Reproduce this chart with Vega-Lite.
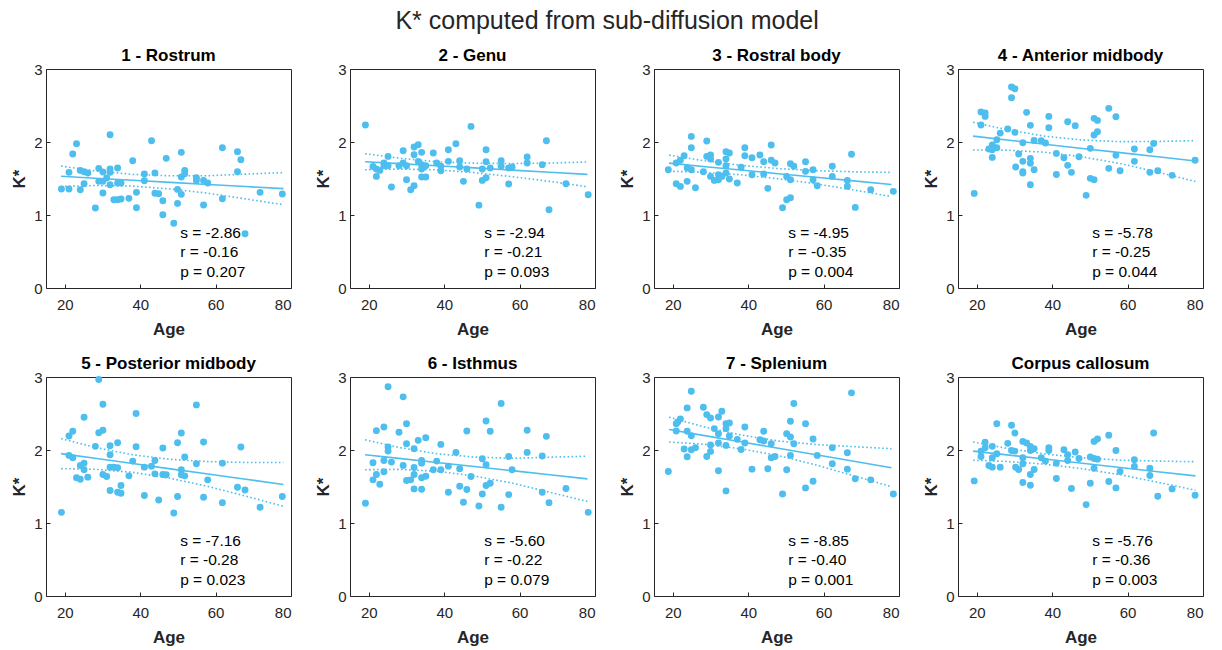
{
"$schema": "https://vega.github.io/schema/vega-lite/v6.json",
"background": "white",
"padding": {"left": 10, "top": 8, "right": 5, "bottom": 5},
"title": {"text": "K* computed from sub-diffusion model", "fontSize": 25, "fontWeight": "normal", "font": "Liberation Sans", "color": "#262626", "anchor": "middle", "offset": 13},
"data": {"values": [
{"panel":"1 - Rostrum","kind":"pt","age":19.1,"K":1.355},{"panel":"1 - Rostrum","kind":"pt","age":21.1,"K":1.584},{"panel":"1 - Rostrum","kind":"pt","age":21.1,"K":1.355},{"panel":"1 - Rostrum","kind":"pt","age":22.1,"K":1.835},{"panel":"1 - Rostrum","kind":"pt","age":23.1,"K":1.977},{"panel":"1 - Rostrum","kind":"pt","age":24.1,"K":1.611},{"panel":"1 - Rostrum","kind":"pt","age":24.1,"K":1.347},{"panel":"1 - Rostrum","kind":"pt","age":25.1,"K":1.429},{"panel":"1 - Rostrum","kind":"pt","age":25.1,"K":1.593},{"panel":"1 - Rostrum","kind":"pt","age":26.1,"K":1.575},{"panel":"1 - Rostrum","kind":"pt","age":28.1,"K":1.095},{"panel":"1 - Rostrum","kind":"pt","age":29.0,"K":1.639},{"panel":"1 - Rostrum","kind":"pt","age":29.0,"K":1.461},{"panel":"1 - Rostrum","kind":"pt","age":30.1,"K":1.589},{"panel":"1 - Rostrum","kind":"pt","age":30.1,"K":1.301},{"panel":"1 - Rostrum","kind":"pt","age":30.1,"K":1.461},{"panel":"1 - Rostrum","kind":"pt","age":31.1,"K":1.507},{"panel":"1 - Rostrum","kind":"pt","age":32.0,"K":2.10},{"panel":"1 - Rostrum","kind":"pt","age":32.0,"K":1.630},{"panel":"1 - Rostrum","kind":"pt","age":32.0,"K":1.584},{"panel":"1 - Rostrum","kind":"pt","age":32.0,"K":1.415},{"panel":"1 - Rostrum","kind":"pt","age":33.0,"K":1.210},{"panel":"1 - Rostrum","kind":"pt","age":34.0,"K":1.643},{"panel":"1 - Rostrum","kind":"pt","age":34.0,"K":1.438},{"panel":"1 - Rostrum","kind":"pt","age":34.0,"K":1.210},{"panel":"1 - Rostrum","kind":"pt","age":34.9,"K":1.438},{"panel":"1 - Rostrum","kind":"pt","age":34.9,"K":1.219},{"panel":"1 - Rostrum","kind":"pt","age":37.0,"K":1.228},{"panel":"1 - Rostrum","kind":"pt","age":38.0,"K":1.744},{"panel":"1 - Rostrum","kind":"pt","age":39.0,"K":1.31},{"panel":"1 - Rostrum","kind":"pt","age":39.0,"K":1.10},{"panel":"1 - Rostrum","kind":"pt","age":41.1,"K":1.561},{"panel":"1 - Rostrum","kind":"pt","age":41.1,"K":1.47},{"panel":"1 - Rostrum","kind":"pt","age":43.0,"K":2.018},{"panel":"1 - Rostrum","kind":"pt","age":43.9,"K":1.575},{"panel":"1 - Rostrum","kind":"pt","age":43.9,"K":1.297},{"panel":"1 - Rostrum","kind":"pt","age":44.9,"K":1.292},{"panel":"1 - Rostrum","kind":"pt","age":46.0,"K":1.196},{"panel":"1 - Rostrum","kind":"pt","age":46.0,"K":1.004},{"panel":"1 - Rostrum","kind":"pt","age":46.9,"K":1.776},{"panel":"1 - Rostrum","kind":"pt","age":48.9,"K":0.886},{"panel":"1 - Rostrum","kind":"pt","age":49.9,"K":1.351},{"panel":"1 - Rostrum","kind":"pt","age":49.9,"K":1.159},{"panel":"1 - Rostrum","kind":"pt","age":50.9,"K":1.858},{"panel":"1 - Rostrum","kind":"pt","age":50.9,"K":1.52},{"panel":"1 - Rostrum","kind":"pt","age":50.9,"K":1.283},{"panel":"1 - Rostrum","kind":"pt","age":51.8,"K":1.611},{"panel":"1 - Rostrum","kind":"pt","age":51.8,"K":1.566},{"panel":"1 - Rostrum","kind":"pt","age":54.9,"K":1.511},{"panel":"1 - Rostrum","kind":"pt","age":54.9,"K":1.474},{"panel":"1 - Rostrum","kind":"pt","age":56.8,"K":1.474},{"panel":"1 - Rostrum","kind":"pt","age":56.8,"K":1.137},{"panel":"1 - Rostrum","kind":"pt","age":57.9,"K":1.438},{"panel":"1 - Rostrum","kind":"pt","age":61.8,"K":1.922},{"panel":"1 - Rostrum","kind":"pt","age":61.8,"K":1.223},{"panel":"1 - Rostrum","kind":"pt","age":65.8,"K":1.868},{"panel":"1 - Rostrum","kind":"pt","age":65.8,"K":1.593},{"panel":"1 - Rostrum","kind":"pt","age":66.7,"K":1.758},{"panel":"1 - Rostrum","kind":"pt","age":71.8,"K":1.31},{"panel":"1 - Rostrum","kind":"pt","age":77.7,"K":1.287},{"panel":"1 - Rostrum","kind":"pt","age":67.8,"K":0.743},
{"panel":"2 - Genu","kind":"pt","age":19.1,"K":2.232},{"panel":"2 - Genu","kind":"pt","age":21.1,"K":1.665},{"panel":"2 - Genu","kind":"pt","age":22.0,"K":1.529},{"panel":"2 - Genu","kind":"pt","age":22.0,"K":1.63},{"panel":"2 - Genu","kind":"pt","age":22.9,"K":1.611},{"panel":"2 - Genu","kind":"pt","age":24.0,"K":1.712},{"panel":"2 - Genu","kind":"pt","age":24.0,"K":1.675},{"panel":"2 - Genu","kind":"pt","age":25.1,"K":1.803},{"panel":"2 - Genu","kind":"pt","age":25.1,"K":1.675},{"panel":"2 - Genu","kind":"pt","age":26.0,"K":1.383},{"panel":"2 - Genu","kind":"pt","age":28.0,"K":1.675},{"panel":"2 - Genu","kind":"pt","age":29.1,"K":1.881},{"panel":"2 - Genu","kind":"pt","age":29.1,"K":1.712},{"panel":"2 - Genu","kind":"pt","age":30.0,"K":1.675},{"panel":"2 - Genu","kind":"pt","age":30.0,"K":1.484},{"panel":"2 - Genu","kind":"pt","age":31.1,"K":1.346},{"panel":"2 - Genu","kind":"pt","age":32.0,"K":1.401},{"panel":"2 - Genu","kind":"pt","age":32.0,"K":1.931},{"panel":"2 - Genu","kind":"pt","age":33.1,"K":1.963},{"panel":"2 - Genu","kind":"pt","age":32.0,"K":1.826},{"panel":"2 - Genu","kind":"pt","age":33.1,"K":1.735},{"panel":"2 - Genu","kind":"pt","age":34.0,"K":1.858},{"panel":"2 - Genu","kind":"pt","age":34.0,"K":1.63},{"panel":"2 - Genu","kind":"pt","age":34.0,"K":1.689},{"panel":"2 - Genu","kind":"pt","age":34.0,"K":1.52},{"panel":"2 - Genu","kind":"pt","age":35.1,"K":1.52},{"panel":"2 - Genu","kind":"pt","age":35.1,"K":1.675},{"panel":"2 - Genu","kind":"pt","age":37.1,"K":1.849},{"panel":"2 - Genu","kind":"pt","age":38.0,"K":1.712},{"panel":"2 - Genu","kind":"pt","age":39.1,"K":1.667},{"panel":"2 - Genu","kind":"pt","age":39.1,"K":1.607},{"panel":"2 - Genu","kind":"pt","age":41.1,"K":1.894},{"panel":"2 - Genu","kind":"pt","age":41.1,"K":1.735},{"panel":"2 - Genu","kind":"pt","age":43.1,"K":1.977},{"panel":"2 - Genu","kind":"pt","age":44.1,"K":1.744},{"panel":"2 - Genu","kind":"pt","age":44.1,"K":1.657},{"panel":"2 - Genu","kind":"pt","age":45.1,"K":1.461},{"panel":"2 - Genu","kind":"pt","age":46.0,"K":1.63},{"panel":"2 - Genu","kind":"pt","age":47.1,"K":2.214},{"panel":"2 - Genu","kind":"pt","age":49.2,"K":1.135},{"panel":"2 - Genu","kind":"pt","age":50.1,"K":1.63},{"panel":"2 - Genu","kind":"pt","age":50.1,"K":1.474},{"panel":"2 - Genu","kind":"pt","age":51.1,"K":1.511},{"panel":"2 - Genu","kind":"pt","age":51.1,"K":1.731},{"panel":"2 - Genu","kind":"pt","age":51.1,"K":1.894},{"panel":"2 - Genu","kind":"pt","age":52.2,"K":1.644},{"panel":"2 - Genu","kind":"pt","age":55.1,"K":1.744},{"panel":"2 - Genu","kind":"pt","age":55.1,"K":1.667},{"panel":"2 - Genu","kind":"pt","age":57.1,"K":1.424},{"panel":"2 - Genu","kind":"pt","age":57.1,"K":1.644},{"panel":"2 - Genu","kind":"pt","age":58.0,"K":1.657},{"panel":"2 - Genu","kind":"pt","age":62.0,"K":1.794},{"panel":"2 - Genu","kind":"pt","age":62.0,"K":1.712},{"panel":"2 - Genu","kind":"pt","age":66.0,"K":1.689},{"panel":"2 - Genu","kind":"pt","age":67.1,"K":2.018},{"panel":"2 - Genu","kind":"pt","age":67.8,"K":1.073},{"panel":"2 - Genu","kind":"pt","age":72.3,"K":1.429},{"panel":"2 - Genu","kind":"pt","age":78.2,"K":1.278},
{"panel":"3 - Rostral body","kind":"pt","age":18.8,"K":1.621},{"panel":"3 - Rostral body","kind":"pt","age":20.9,"K":1.712},{"panel":"3 - Rostral body","kind":"pt","age":20.9,"K":1.429},{"panel":"3 - Rostral body","kind":"pt","age":22.0,"K":1.392},{"panel":"3 - Rostral body","kind":"pt","age":22.0,"K":1.749},{"panel":"3 - Rostral body","kind":"pt","age":23.0,"K":1.812},{"panel":"3 - Rostral body","kind":"pt","age":23.8,"K":1.461},{"panel":"3 - Rostral body","kind":"pt","age":23.8,"K":1.644},{"panel":"3 - Rostral body","kind":"pt","age":24.9,"K":2.077},{"panel":"3 - Rostral body","kind":"pt","age":24.9,"K":1.922},{"panel":"3 - Rostral body","kind":"pt","age":24.9,"K":1.621},{"panel":"3 - Rostral body","kind":"pt","age":26.0,"K":1.374},{"panel":"3 - Rostral body","kind":"pt","age":28.1,"K":1.593},{"panel":"3 - Rostral body","kind":"pt","age":29.0,"K":2.013},{"panel":"3 - Rostral body","kind":"pt","age":29.0,"K":1.803},{"panel":"3 - Rostral body","kind":"pt","age":30.0,"K":1.822},{"panel":"3 - Rostral body","kind":"pt","age":30.0,"K":1.767},{"panel":"3 - Rostral body","kind":"pt","age":30.0,"K":1.529},{"panel":"3 - Rostral body","kind":"pt","age":31.0,"K":1.474},{"panel":"3 - Rostral body","kind":"pt","age":32.1,"K":1.721},{"panel":"3 - Rostral body","kind":"pt","age":32.1,"K":1.552},{"panel":"3 - Rostral body","kind":"pt","age":32.1,"K":1.484},{"panel":"3 - Rostral body","kind":"pt","age":33.0,"K":1.529},{"panel":"3 - Rostral body","kind":"pt","age":34.1,"K":1.868},{"panel":"3 - Rostral body","kind":"pt","age":34.1,"K":1.767},{"panel":"3 - Rostral body","kind":"pt","age":34.1,"K":1.675},{"panel":"3 - Rostral body","kind":"pt","age":34.1,"K":1.575},{"panel":"3 - Rostral body","kind":"pt","age":35.0,"K":1.849},{"panel":"3 - Rostral body","kind":"pt","age":35.0,"K":1.493},{"panel":"3 - Rostral body","kind":"pt","age":37.1,"K":1.438},{"panel":"3 - Rostral body","kind":"pt","age":38.1,"K":1.653},{"panel":"3 - Rostral body","kind":"pt","age":39.1,"K":1.922},{"panel":"3 - Rostral body","kind":"pt","age":39.1,"K":1.812},{"panel":"3 - Rostral body","kind":"pt","age":41.0,"K":1.785},{"panel":"3 - Rostral body","kind":"pt","age":41.0,"K":1.552},{"panel":"3 - Rostral body","kind":"pt","age":43.1,"K":1.822},{"panel":"3 - Rostral body","kind":"pt","age":44.1,"K":1.731},{"panel":"3 - Rostral body","kind":"pt","age":44.1,"K":1.561},{"panel":"3 - Rostral body","kind":"pt","age":45.2,"K":1.365},{"panel":"3 - Rostral body","kind":"pt","age":46.1,"K":1.958},{"panel":"3 - Rostral body","kind":"pt","age":46.1,"K":1.749},{"panel":"3 - Rostral body","kind":"pt","age":47.1,"K":1.712},{"panel":"3 - Rostral body","kind":"pt","age":49.1,"K":1.099},{"panel":"3 - Rostral body","kind":"pt","age":50.2,"K":1.21},{"panel":"3 - Rostral body","kind":"pt","age":51.2,"K":1.237},{"panel":"3 - Rostral body","kind":"pt","age":50.2,"K":1.529},{"panel":"3 - Rostral body","kind":"pt","age":51.2,"K":1.703},{"panel":"3 - Rostral body","kind":"pt","age":51.2,"K":1.484},{"panel":"3 - Rostral body","kind":"pt","age":52.1,"K":1.667},{"panel":"3 - Rostral body","kind":"pt","age":55.2,"K":1.731},{"panel":"3 - Rostral body","kind":"pt","age":55.2,"K":1.598},{"panel":"3 - Rostral body","kind":"pt","age":57.2,"K":1.621},{"panel":"3 - Rostral body","kind":"pt","age":57.2,"K":1.484},{"panel":"3 - Rostral body","kind":"pt","age":58.3,"K":1.401},{"panel":"3 - Rostral body","kind":"pt","age":62.3,"K":1.667},{"panel":"3 - Rostral body","kind":"pt","age":62.3,"K":1.529},{"panel":"3 - Rostral body","kind":"pt","age":66.3,"K":1.474},{"panel":"3 - Rostral body","kind":"pt","age":66.3,"K":1.392},{"panel":"3 - Rostral body","kind":"pt","age":67.4,"K":1.831},{"panel":"3 - Rostral body","kind":"pt","age":68.4,"K":1.104},{"panel":"3 - Rostral body","kind":"pt","age":72.5,"K":1.347},{"panel":"3 - Rostral body","kind":"pt","age":78.5,"K":1.324},
{"panel":"4 - Anterior midbody","kind":"pt","age":19.3,"K":1.296},{"panel":"4 - Anterior midbody","kind":"pt","age":21.1,"K":2.411},{"panel":"4 - Anterior midbody","kind":"pt","age":22.2,"K":2.397},{"panel":"4 - Anterior midbody","kind":"pt","age":22.2,"K":2.351},{"panel":"4 - Anterior midbody","kind":"pt","age":21.1,"K":2.233},{"panel":"4 - Anterior midbody","kind":"pt","age":23.2,"K":1.904},{"panel":"4 - Anterior midbody","kind":"pt","age":24.1,"K":1.958},{"panel":"4 - Anterior midbody","kind":"pt","age":24.1,"K":1.894},{"panel":"4 - Anterior midbody","kind":"pt","age":24.1,"K":1.789},{"panel":"4 - Anterior midbody","kind":"pt","age":25.3,"K":2.031},{"panel":"4 - Anterior midbody","kind":"pt","age":25.3,"K":1.922},{"panel":"4 - Anterior midbody","kind":"pt","age":26.2,"K":2.122},{"panel":"4 - Anterior midbody","kind":"pt","age":28.2,"K":2.177},{"panel":"4 - Anterior midbody","kind":"pt","age":29.2,"K":2.753},{"panel":"4 - Anterior midbody","kind":"pt","age":30.1,"K":2.730},{"panel":"4 - Anterior midbody","kind":"pt","age":29.2,"K":2.607},{"panel":"4 - Anterior midbody","kind":"pt","age":30.1,"K":2.132},{"panel":"4 - Anterior midbody","kind":"pt","age":30.3,"K":1.657},{"panel":"4 - Anterior midbody","kind":"pt","age":31.1,"K":1.835},{"panel":"4 - Anterior midbody","kind":"pt","age":32.2,"K":1.99},{"panel":"4 - Anterior midbody","kind":"pt","age":32.2,"K":1.735},{"panel":"4 - Anterior midbody","kind":"pt","age":32.2,"K":1.593},{"panel":"4 - Anterior midbody","kind":"pt","age":32.2,"K":1.575},{"panel":"4 - Anterior midbody","kind":"pt","age":33.2,"K":2.406},{"panel":"4 - Anterior midbody","kind":"pt","age":34.2,"K":2.228},{"panel":"4 - Anterior midbody","kind":"pt","age":34.2,"K":1.776},{"panel":"4 - Anterior midbody","kind":"pt","age":34.2,"K":1.708},{"panel":"4 - Anterior midbody","kind":"pt","age":34.2,"K":1.415},{"panel":"4 - Anterior midbody","kind":"pt","age":35.2,"K":2.022},{"panel":"4 - Anterior midbody","kind":"pt","age":35.2,"K":1.621},{"panel":"4 - Anterior midbody","kind":"pt","age":37.1,"K":2.018},{"panel":"4 - Anterior midbody","kind":"pt","age":38.2,"K":1.986},{"panel":"4 - Anterior midbody","kind":"pt","age":39.1,"K":2.351},{"panel":"4 - Anterior midbody","kind":"pt","age":39.1,"K":2.196},{"panel":"4 - Anterior midbody","kind":"pt","age":41.1,"K":1.844},{"panel":"4 - Anterior midbody","kind":"pt","age":41.1,"K":1.556},{"panel":"4 - Anterior midbody","kind":"pt","age":43.1,"K":1.785},{"panel":"4 - Anterior midbody","kind":"pt","age":44.1,"K":2.278},{"panel":"4 - Anterior midbody","kind":"pt","age":44.1,"K":1.680},{"panel":"4 - Anterior midbody","kind":"pt","age":45.1,"K":1.584},{"panel":"4 - Anterior midbody","kind":"pt","age":46.1,"K":2.224},{"panel":"4 - Anterior midbody","kind":"pt","age":47.1,"K":1.799},{"panel":"4 - Anterior midbody","kind":"pt","age":49.0,"K":1.269},{"panel":"4 - Anterior midbody","kind":"pt","age":50.1,"K":1.913},{"panel":"4 - Anterior midbody","kind":"pt","age":50.1,"K":1.502},{"panel":"4 - Anterior midbody","kind":"pt","age":51.1,"K":1.484},{"panel":"4 - Anterior midbody","kind":"pt","age":51.1,"K":2.324},{"panel":"4 - Anterior midbody","kind":"pt","age":52.0,"K":2.296},{"panel":"4 - Anterior midbody","kind":"pt","age":51.1,"K":2.096},{"panel":"4 - Anterior midbody","kind":"pt","age":52.0,"K":2.141},{"panel":"4 - Anterior midbody","kind":"pt","age":55.0,"K":2.461},{"panel":"4 - Anterior midbody","kind":"pt","age":55.0,"K":1.639},{"panel":"4 - Anterior midbody","kind":"pt","age":56.9,"K":2.347},{"panel":"4 - Anterior midbody","kind":"pt","age":56.9,"K":1.817},{"panel":"4 - Anterior midbody","kind":"pt","age":58.0,"K":1.607},{"panel":"4 - Anterior midbody","kind":"pt","age":61.8,"K":1.904},{"panel":"4 - Anterior midbody","kind":"pt","age":61.8,"K":1.735},{"panel":"4 - Anterior midbody","kind":"pt","age":65.9,"K":1.894},{"panel":"4 - Anterior midbody","kind":"pt","age":65.9,"K":1.584},{"panel":"4 - Anterior midbody","kind":"pt","age":66.9,"K":1.981},{"panel":"4 - Anterior midbody","kind":"pt","age":68.0,"K":1.607},{"panel":"4 - Anterior midbody","kind":"pt","age":71.8,"K":1.543},{"panel":"4 - Anterior midbody","kind":"pt","age":77.9,"K":1.749},
{"panel":"5 - Posterior midbody","kind":"pt","age":19.1,"K":1.146},{"panel":"5 - Posterior midbody","kind":"pt","age":21.1,"K":2.192},{"panel":"5 - Posterior midbody","kind":"pt","age":22.1,"K":2.256},{"panel":"5 - Posterior midbody","kind":"pt","age":21.1,"K":1.926},{"panel":"5 - Posterior midbody","kind":"pt","age":22.1,"K":1.894},{"panel":"5 - Posterior midbody","kind":"pt","age":23.1,"K":1.619},{"panel":"5 - Posterior midbody","kind":"pt","age":24.1,"K":1.600},{"panel":"5 - Posterior midbody","kind":"pt","age":24.1,"K":1.788},{"panel":"5 - Posterior midbody","kind":"pt","age":25.1,"K":1.820},{"panel":"5 - Posterior midbody","kind":"pt","age":25.1,"K":1.729},{"panel":"5 - Posterior midbody","kind":"pt","age":25.1,"K":2.448},{"panel":"5 - Posterior midbody","kind":"pt","age":26.1,"K":1.628},{"panel":"5 - Posterior midbody","kind":"pt","age":28.1,"K":2.05},{"panel":"5 - Posterior midbody","kind":"pt","age":29.0,"K":2.966},{"panel":"5 - Posterior midbody","kind":"pt","age":29.0,"K":2.237},{"panel":"5 - Posterior midbody","kind":"pt","age":30.1,"K":2.27},{"panel":"5 - Posterior midbody","kind":"pt","age":30.1,"K":2.627},{"panel":"5 - Posterior midbody","kind":"pt","age":30.1,"K":1.664},{"panel":"5 - Posterior midbody","kind":"pt","age":31.1,"K":1.637},{"panel":"5 - Posterior midbody","kind":"pt","age":32.0,"K":2.059},{"panel":"5 - Posterior midbody","kind":"pt","age":32.0,"K":1.935},{"panel":"5 - Posterior midbody","kind":"pt","age":32.0,"K":1.765},{"panel":"5 - Posterior midbody","kind":"pt","age":32.0,"K":1.444},{"panel":"5 - Posterior midbody","kind":"pt","age":33.0,"K":1.765},{"panel":"5 - Posterior midbody","kind":"pt","age":34.0,"K":2.1},{"panel":"5 - Posterior midbody","kind":"pt","age":34.0,"K":1.756},{"panel":"5 - Posterior midbody","kind":"pt","age":34.0,"K":1.421},{"panel":"5 - Posterior midbody","kind":"pt","age":34.9,"K":1.513},{"panel":"5 - Posterior midbody","kind":"pt","age":34.9,"K":1.408},{"panel":"5 - Posterior midbody","kind":"pt","age":37.0,"K":1.646},{"panel":"5 - Posterior midbody","kind":"pt","age":38.0,"K":1.848},{"panel":"5 - Posterior midbody","kind":"pt","age":38.9,"K":2.499},{"panel":"5 - Posterior midbody","kind":"pt","age":38.9,"K":2.045},{"panel":"5 - Posterior midbody","kind":"pt","age":41.1,"K":1.765},{"panel":"5 - Posterior midbody","kind":"pt","age":41.1,"K":1.376},{"panel":"5 - Posterior midbody","kind":"pt","age":43.0,"K":1.779},{"panel":"5 - Posterior midbody","kind":"pt","age":43.9,"K":1.857},{"panel":"5 - Posterior midbody","kind":"pt","age":43.9,"K":1.673},{"panel":"5 - Posterior midbody","kind":"pt","age":44.9,"K":1.316},{"panel":"5 - Posterior midbody","kind":"pt","age":46.0,"K":2.027},{"panel":"5 - Posterior midbody","kind":"pt","age":46.0,"K":1.664},{"panel":"5 - Posterior midbody","kind":"pt","age":46.9,"K":1.660},{"panel":"5 - Posterior midbody","kind":"pt","age":48.9,"K":1.137},{"panel":"5 - Posterior midbody","kind":"pt","age":49.9,"K":2.1},{"panel":"5 - Posterior midbody","kind":"pt","age":49.9,"K":1.362},{"panel":"5 - Posterior midbody","kind":"pt","age":50.9,"K":2.233},{"panel":"5 - Posterior midbody","kind":"pt","age":50.9,"K":1.729},{"panel":"5 - Posterior midbody","kind":"pt","age":50.9,"K":1.660},{"panel":"5 - Posterior midbody","kind":"pt","age":51.8,"K":1.903},{"panel":"5 - Posterior midbody","kind":"pt","age":51.8,"K":1.646},{"panel":"5 - Posterior midbody","kind":"pt","age":54.9,"K":2.618},{"panel":"5 - Posterior midbody","kind":"pt","age":54.9,"K":1.811},{"panel":"5 - Posterior midbody","kind":"pt","age":56.8,"K":2.109},{"panel":"5 - Posterior midbody","kind":"pt","age":56.8,"K":1.353},{"panel":"5 - Posterior midbody","kind":"pt","age":57.9,"K":1.591},{"panel":"5 - Posterior midbody","kind":"pt","age":61.8,"K":1.820},{"panel":"5 - Posterior midbody","kind":"pt","age":61.8,"K":1.279},{"panel":"5 - Posterior midbody","kind":"pt","age":65.8,"K":1.490},{"panel":"5 - Posterior midbody","kind":"pt","age":66.7,"K":2.04},{"panel":"5 - Posterior midbody","kind":"pt","age":67.8,"K":1.453},{"panel":"5 - Posterior midbody","kind":"pt","age":71.8,"K":1.215},{"panel":"5 - Posterior midbody","kind":"pt","age":77.7,"K":1.362},
{"panel":"6 - Isthmus","kind":"pt","age":19.1,"K":1.27},{"panel":"6 - Isthmus","kind":"pt","age":21.1,"K":1.825},{"panel":"6 - Isthmus","kind":"pt","age":21.1,"K":1.591},{"panel":"6 - Isthmus","kind":"pt","age":22.0,"K":2.265},{"panel":"6 - Isthmus","kind":"pt","age":22.0,"K":1.664},{"panel":"6 - Isthmus","kind":"pt","age":22.9,"K":1.531},{"panel":"6 - Isthmus","kind":"pt","age":24.0,"K":2.315},{"panel":"6 - Isthmus","kind":"pt","age":24.0,"K":1.857},{"panel":"6 - Isthmus","kind":"pt","age":24.0,"K":1.701},{"panel":"6 - Isthmus","kind":"pt","age":25.1,"K":2.866},{"panel":"6 - Isthmus","kind":"pt","age":25.1,"K":2.04},{"panel":"6 - Isthmus","kind":"pt","age":25.1,"K":1.985},{"panel":"6 - Isthmus","kind":"pt","age":26.0,"K":1.834},{"panel":"6 - Isthmus","kind":"pt","age":28.0,"K":2.242},{"panel":"6 - Isthmus","kind":"pt","age":29.1,"K":2.728},{"panel":"6 - Isthmus","kind":"pt","age":29.1,"K":1.788},{"panel":"6 - Isthmus","kind":"pt","age":30.0,"K":2.361},{"panel":"6 - Isthmus","kind":"pt","age":30.0,"K":2.086},{"panel":"6 - Isthmus","kind":"pt","age":30.0,"K":1.582},{"panel":"6 - Isthmus","kind":"pt","age":31.1,"K":1.591},{"panel":"6 - Isthmus","kind":"pt","age":32.0,"K":2.017},{"panel":"6 - Isthmus","kind":"pt","age":32.0,"K":1.761},{"panel":"6 - Isthmus","kind":"pt","age":32.0,"K":1.664},{"panel":"6 - Isthmus","kind":"pt","age":32.0,"K":1.467},{"panel":"6 - Isthmus","kind":"pt","age":33.1,"K":2.132},{"panel":"6 - Isthmus","kind":"pt","age":34.0,"K":1.857},{"panel":"6 - Isthmus","kind":"pt","age":34.0,"K":1.820},{"panel":"6 - Isthmus","kind":"pt","age":34.0,"K":1.619},{"panel":"6 - Isthmus","kind":"pt","age":34.0,"K":1.463},{"panel":"6 - Isthmus","kind":"pt","age":35.1,"K":2.169},{"panel":"6 - Isthmus","kind":"pt","age":35.1,"K":1.641},{"panel":"6 - Isthmus","kind":"pt","age":37.1,"K":1.729},{"panel":"6 - Isthmus","kind":"pt","age":38.0,"K":1.848},{"panel":"6 - Isthmus","kind":"pt","age":39.1,"K":2.077},{"panel":"6 - Isthmus","kind":"pt","age":39.1,"K":1.729},{"panel":"6 - Isthmus","kind":"pt","age":41.1,"K":1.779},{"panel":"6 - Isthmus","kind":"pt","age":41.1,"K":1.421},{"panel":"6 - Isthmus","kind":"pt","age":43.1,"K":1.967},{"panel":"6 - Isthmus","kind":"pt","age":44.1,"K":1.742},{"panel":"6 - Isthmus","kind":"pt","age":44.1,"K":1.504},{"panel":"6 - Isthmus","kind":"pt","age":45.1,"K":1.284},{"panel":"6 - Isthmus","kind":"pt","age":46.0,"K":2.26},{"panel":"6 - Isthmus","kind":"pt","age":46.0,"K":1.458},{"panel":"6 - Isthmus","kind":"pt","age":47.1,"K":1.637},{"panel":"6 - Isthmus","kind":"pt","age":49.2,"K":1.233},{"panel":"6 - Isthmus","kind":"pt","age":50.1,"K":1.880},{"panel":"6 - Isthmus","kind":"pt","age":50.1,"K":1.398},{"panel":"6 - Isthmus","kind":"pt","age":51.1,"K":2.398},{"panel":"6 - Isthmus","kind":"pt","age":51.1,"K":1.797},{"panel":"6 - Isthmus","kind":"pt","age":51.1,"K":1.513},{"panel":"6 - Isthmus","kind":"pt","age":52.2,"K":2.256},{"panel":"6 - Isthmus","kind":"pt","age":52.2,"K":1.545},{"panel":"6 - Isthmus","kind":"pt","age":55.1,"K":2.636},{"panel":"6 - Isthmus","kind":"pt","age":55.1,"K":1.215},{"panel":"6 - Isthmus","kind":"pt","age":57.1,"K":1.912},{"panel":"6 - Isthmus","kind":"pt","age":57.1,"K":1.389},{"panel":"6 - Isthmus","kind":"pt","age":58.0,"K":1.729},{"panel":"6 - Isthmus","kind":"pt","age":62.0,"K":2.27},{"panel":"6 - Isthmus","kind":"pt","age":62.0,"K":1.967},{"panel":"6 - Isthmus","kind":"pt","age":66.0,"K":1.917},{"panel":"6 - Isthmus","kind":"pt","age":66.0,"K":1.421},{"panel":"6 - Isthmus","kind":"pt","age":67.1,"K":2.187},{"panel":"6 - Isthmus","kind":"pt","age":67.8,"K":1.279},{"panel":"6 - Isthmus","kind":"pt","age":72.3,"K":1.472},{"panel":"6 - Isthmus","kind":"pt","age":78.2,"K":1.146},
{"panel":"7 - Splenium","kind":"pt","age":18.8,"K":1.706},{"panel":"7 - Splenium","kind":"pt","age":20.9,"K":2.361},{"panel":"7 - Splenium","kind":"pt","age":20.9,"K":2.26},{"panel":"7 - Splenium","kind":"pt","age":21.3,"K":2.384},{"panel":"7 - Splenium","kind":"pt","age":22.0,"K":2.425},{"panel":"7 - Splenium","kind":"pt","age":23.0,"K":2.013},{"panel":"7 - Splenium","kind":"pt","age":23.8,"K":2.577},{"panel":"7 - Splenium","kind":"pt","age":23.8,"K":2.256},{"panel":"7 - Splenium","kind":"pt","age":23.8,"K":1.907},{"panel":"7 - Splenium","kind":"pt","age":24.9,"K":2.806},{"panel":"7 - Splenium","kind":"pt","age":24.9,"K":2.196},{"panel":"7 - Splenium","kind":"pt","age":24.9,"K":2.004},{"panel":"7 - Splenium","kind":"pt","age":26.0,"K":2.031},{"panel":"7 - Splenium","kind":"pt","age":28.1,"K":2.586},{"panel":"7 - Splenium","kind":"pt","age":29.0,"K":2.485},{"panel":"7 - Splenium","kind":"pt","age":29.0,"K":1.912},{"panel":"7 - Splenium","kind":"pt","age":30.0,"K":2.439},{"panel":"7 - Splenium","kind":"pt","age":30.0,"K":2.068},{"panel":"7 - Splenium","kind":"pt","age":30.0,"K":1.981},{"panel":"7 - Splenium","kind":"pt","age":31.0,"K":2.293},{"panel":"7 - Splenium","kind":"pt","age":32.1,"K":2.453},{"panel":"7 - Splenium","kind":"pt","age":32.1,"K":2.224},{"panel":"7 - Splenium","kind":"pt","age":32.1,"K":2.095},{"panel":"7 - Splenium","kind":"pt","age":32.1,"K":1.715},{"panel":"7 - Splenium","kind":"pt","age":33.0,"K":2.531},{"panel":"7 - Splenium","kind":"pt","age":34.1,"K":2.361},{"panel":"7 - Splenium","kind":"pt","age":34.1,"K":2.293},{"panel":"7 - Splenium","kind":"pt","age":34.1,"K":2.063},{"panel":"7 - Splenium","kind":"pt","age":34.1,"K":1.44},{"panel":"7 - Splenium","kind":"pt","age":35.0,"K":2.37},{"panel":"7 - Splenium","kind":"pt","age":35.0,"K":2.192},{"panel":"7 - Splenium","kind":"pt","age":37.1,"K":2.146},{"panel":"7 - Splenium","kind":"pt","age":38.1,"K":2.008},{"panel":"7 - Splenium","kind":"pt","age":39.1,"K":2.315},{"panel":"7 - Splenium","kind":"pt","age":39.1,"K":2.095},{"panel":"7 - Splenium","kind":"pt","age":41.0,"K":1.738},{"panel":"7 - Splenium","kind":"pt","age":43.1,"K":2.141},{"panel":"7 - Splenium","kind":"pt","age":44.1,"K":2.256},{"panel":"7 - Splenium","kind":"pt","age":44.1,"K":2.123},{"panel":"7 - Splenium","kind":"pt","age":45.2,"K":1.742},{"panel":"7 - Splenium","kind":"pt","age":46.1,"K":2.086},{"panel":"7 - Splenium","kind":"pt","age":46.1,"K":1.894},{"panel":"7 - Splenium","kind":"pt","age":47.1,"K":1.912},{"panel":"7 - Splenium","kind":"pt","age":49.1,"K":1.398},{"panel":"7 - Splenium","kind":"pt","age":50.2,"K":2.224},{"panel":"7 - Splenium","kind":"pt","age":50.2,"K":1.729},{"panel":"7 - Splenium","kind":"pt","age":51.2,"K":2.178},{"panel":"7 - Splenium","kind":"pt","age":51.2,"K":2.393},{"panel":"7 - Splenium","kind":"pt","age":51.2,"K":1.926},{"panel":"7 - Splenium","kind":"pt","age":52.1,"K":2.636},{"panel":"7 - Splenium","kind":"pt","age":52.1,"K":2.086},{"panel":"7 - Splenium","kind":"pt","age":55.2,"K":2.361},{"panel":"7 - Splenium","kind":"pt","age":55.2,"K":1.481},{"panel":"7 - Splenium","kind":"pt","age":57.2,"K":2.15},{"panel":"7 - Splenium","kind":"pt","age":57.2,"K":1.573},{"panel":"7 - Splenium","kind":"pt","age":58.3,"K":1.926},{"panel":"7 - Splenium","kind":"pt","age":62.3,"K":2.031},{"panel":"7 - Splenium","kind":"pt","age":62.3,"K":1.811},{"panel":"7 - Splenium","kind":"pt","age":66.3,"K":1.962},{"panel":"7 - Splenium","kind":"pt","age":66.3,"K":1.738},{"panel":"7 - Splenium","kind":"pt","age":67.4,"K":2.783},{"panel":"7 - Splenium","kind":"pt","age":68.4,"K":1.605},{"panel":"7 - Splenium","kind":"pt","age":72.5,"K":1.591},{"panel":"7 - Splenium","kind":"pt","age":78.5,"K":1.398},
{"panel":"Corpus callosum","kind":"pt","age":19.3,"K":1.577},{"panel":"Corpus callosum","kind":"pt","age":21.1,"K":1.985},{"panel":"Corpus callosum","kind":"pt","age":21.1,"K":1.912},{"panel":"Corpus callosum","kind":"pt","age":22.2,"K":2.105},{"panel":"Corpus callosum","kind":"pt","age":22.2,"K":2.031},{"panel":"Corpus callosum","kind":"pt","age":23.2,"K":1.788},{"panel":"Corpus callosum","kind":"pt","age":24.1,"K":2.05},{"panel":"Corpus callosum","kind":"pt","age":24.1,"K":1.894},{"panel":"Corpus callosum","kind":"pt","age":24.1,"K":1.765},{"panel":"Corpus callosum","kind":"pt","age":25.3,"K":2.361},{"panel":"Corpus callosum","kind":"pt","age":25.3,"K":1.949},{"panel":"Corpus callosum","kind":"pt","age":26.2,"K":1.765},{"panel":"Corpus callosum","kind":"pt","age":28.2,"K":2.091},{"panel":"Corpus callosum","kind":"pt","age":29.2,"K":2.338},{"panel":"Corpus callosum","kind":"pt","age":29.2,"K":1.994},{"panel":"Corpus callosum","kind":"pt","age":30.1,"K":2.233},{"panel":"Corpus callosum","kind":"pt","age":30.1,"K":1.985},{"panel":"Corpus callosum","kind":"pt","age":30.3,"K":1.765},{"panel":"Corpus callosum","kind":"pt","age":31.1,"K":1.733},{"panel":"Corpus callosum","kind":"pt","age":32.2,"K":2.118},{"panel":"Corpus callosum","kind":"pt","age":32.2,"K":1.894},{"panel":"Corpus callosum","kind":"pt","age":32.2,"K":1.811},{"panel":"Corpus callosum","kind":"pt","age":32.2,"K":1.554},{"panel":"Corpus callosum","kind":"pt","age":33.2,"K":2.095},{"panel":"Corpus callosum","kind":"pt","age":34.2,"K":2.05},{"panel":"Corpus callosum","kind":"pt","age":34.2,"K":1.994},{"panel":"Corpus callosum","kind":"pt","age":34.2,"K":1.664},{"panel":"Corpus callosum","kind":"pt","age":34.2,"K":1.518},{"panel":"Corpus callosum","kind":"pt","age":35.2,"K":2.017},{"panel":"Corpus callosum","kind":"pt","age":35.2,"K":1.733},{"panel":"Corpus callosum","kind":"pt","age":37.1,"K":1.894},{"panel":"Corpus callosum","kind":"pt","age":38.2,"K":1.848},{"panel":"Corpus callosum","kind":"pt","age":39.1,"K":2.031},{"panel":"Corpus callosum","kind":"pt","age":39.1,"K":1.994},{"panel":"Corpus callosum","kind":"pt","age":41.1,"K":1.82},{"panel":"Corpus callosum","kind":"pt","age":41.1,"K":1.609},{"panel":"Corpus callosum","kind":"pt","age":43.1,"K":2.004},{"panel":"Corpus callosum","kind":"pt","age":44.1,"K":1.935},{"panel":"Corpus callosum","kind":"pt","age":44.1,"K":1.857},{"panel":"Corpus callosum","kind":"pt","age":45.1,"K":1.472},{"panel":"Corpus callosum","kind":"pt","age":46.1,"K":1.972},{"panel":"Corpus callosum","kind":"pt","age":47.1,"K":1.884},{"panel":"Corpus callosum","kind":"pt","age":49.0,"K":1.252},{"panel":"Corpus callosum","kind":"pt","age":50.1,"K":1.903},{"panel":"Corpus callosum","kind":"pt","age":50.1,"K":1.545},{"panel":"Corpus callosum","kind":"pt","age":51.1,"K":1.751},{"panel":"Corpus callosum","kind":"pt","age":51.1,"K":2.118},{"panel":"Corpus callosum","kind":"pt","age":52.0,"K":2.15},{"panel":"Corpus callosum","kind":"pt","age":51.1,"K":1.884},{"panel":"Corpus callosum","kind":"pt","age":52.0,"K":1.875},{"panel":"Corpus callosum","kind":"pt","age":55.0,"K":2.201},{"panel":"Corpus callosum","kind":"pt","age":55.0,"K":1.568},{"panel":"Corpus callosum","kind":"pt","age":56.9,"K":1.994},{"panel":"Corpus callosum","kind":"pt","age":56.9,"K":1.481},{"panel":"Corpus callosum","kind":"pt","age":58.0,"K":1.706},{"panel":"Corpus callosum","kind":"pt","age":61.8,"K":1.866},{"panel":"Corpus callosum","kind":"pt","age":61.8,"K":1.774},{"panel":"Corpus callosum","kind":"pt","age":65.9,"K":1.751},{"panel":"Corpus callosum","kind":"pt","age":65.9,"K":1.651},{"panel":"Corpus callosum","kind":"pt","age":66.9,"K":2.233},{"panel":"Corpus callosum","kind":"pt","age":68.0,"K":1.366},{"panel":"Corpus callosum","kind":"pt","age":71.8,"K":1.467},{"panel":"Corpus callosum","kind":"pt","age":77.9,"K":1.38},
{"panel":"1 - Rostrum","kind":"fit","age":19,"K":1.53,"lo":1.39,"hi":1.67},{"panel":"1 - Rostrum","kind":"fit","age":28,"K":1.504,"lo":1.404,"hi":1.604},{"panel":"1 - Rostrum","kind":"fit","age":38,"K":1.476,"lo":1.396,"hi":1.556},{"panel":"1 - Rostrum","kind":"fit","age":48,"K":1.447,"lo":1.357,"hi":1.537},{"panel":"1 - Rostrum","kind":"fit","age":58,"K":1.418,"lo":1.298,"hi":1.538},{"panel":"1 - Rostrum","kind":"fit","age":68,"K":1.39,"lo":1.22,"hi":1.56},{"panel":"1 - Rostrum","kind":"fit","age":78,"K":1.361,"lo":1.141,"hi":1.581},
{"panel":"2 - Genu","kind":"fit","age":19,"K":1.73,"lo":1.62,"hi":1.84},{"panel":"2 - Genu","kind":"fit","age":28,"K":1.704,"lo":1.629,"hi":1.779},{"panel":"2 - Genu","kind":"fit","age":38,"K":1.674,"lo":1.619,"hi":1.729},{"panel":"2 - Genu","kind":"fit","age":48,"K":1.645,"lo":1.58,"hi":1.71},{"panel":"2 - Genu","kind":"fit","age":58,"K":1.615,"lo":1.525,"hi":1.705},{"panel":"2 - Genu","kind":"fit","age":68,"K":1.586,"lo":1.461,"hi":1.711},{"panel":"2 - Genu","kind":"fit","age":78,"K":1.557,"lo":1.387,"hi":1.727},
{"panel":"3 - Rostral body","kind":"fit","age":19,"K":1.71,"lo":1.60,"hi":1.82},{"panel":"3 - Rostral body","kind":"fit","age":28,"K":1.665,"lo":1.585,"hi":1.745},{"panel":"3 - Rostral body","kind":"fit","age":38,"K":1.616,"lo":1.551,"hi":1.681},{"panel":"3 - Rostral body","kind":"fit","age":48,"K":1.566,"lo":1.496,"hi":1.636},{"panel":"3 - Rostral body","kind":"fit","age":58,"K":1.517,"lo":1.427,"hi":1.607},{"panel":"3 - Rostral body","kind":"fit","age":68,"K":1.467,"lo":1.342,"hi":1.592},{"panel":"3 - Rostral body","kind":"fit","age":78,"K":1.418,"lo":1.253,"hi":1.583},
{"panel":"4 - Anterior midbody","kind":"fit","age":19,"K":2.08,"lo":1.89,"hi":2.27},{"panel":"4 - Anterior midbody","kind":"fit","age":28,"K":2.028,"lo":1.888,"hi":2.168},{"panel":"4 - Anterior midbody","kind":"fit","age":38,"K":1.97,"lo":1.86,"hi":2.08},{"panel":"4 - Anterior midbody","kind":"fit","age":48,"K":1.912,"lo":1.797,"hi":2.027},{"panel":"4 - Anterior midbody","kind":"fit","age":58,"K":1.855,"lo":1.705,"hi":2.005},{"panel":"4 - Anterior midbody","kind":"fit","age":68,"K":1.797,"lo":1.587,"hi":2.007},{"panel":"4 - Anterior midbody","kind":"fit","age":78,"K":1.739,"lo":1.459,"hi":2.019},
{"panel":"5 - Posterior midbody","kind":"fit","age":19,"K":1.95,"lo":1.745,"hi":2.155},{"panel":"5 - Posterior midbody","kind":"fit","age":28,"K":1.886,"lo":1.736,"hi":2.036},{"panel":"5 - Posterior midbody","kind":"fit","age":38,"K":1.814,"lo":1.694,"hi":1.934},{"panel":"5 - Posterior midbody","kind":"fit","age":48,"K":1.742,"lo":1.612,"hi":1.872},{"panel":"5 - Posterior midbody","kind":"fit","age":58,"K":1.671,"lo":1.501,"hi":1.841},{"panel":"5 - Posterior midbody","kind":"fit","age":68,"K":1.599,"lo":1.369,"hi":1.829},{"panel":"5 - Posterior midbody","kind":"fit","age":78,"K":1.528,"lo":1.228,"hi":1.828},
{"panel":"6 - Isthmus","kind":"fit","age":19,"K":1.935,"lo":1.73,"hi":2.14},{"panel":"6 - Isthmus","kind":"fit","age":28,"K":1.885,"lo":1.735,"hi":2.035},{"panel":"6 - Isthmus","kind":"fit","age":38,"K":1.829,"lo":1.709,"hi":1.949},{"panel":"6 - Isthmus","kind":"fit","age":48,"K":1.773,"lo":1.643,"hi":1.903},{"panel":"6 - Isthmus","kind":"fit","age":58,"K":1.717,"lo":1.547,"hi":1.887},{"panel":"6 - Isthmus","kind":"fit","age":68,"K":1.661,"lo":1.421,"hi":1.901},{"panel":"6 - Isthmus","kind":"fit","age":78,"K":1.605,"lo":1.295,"hi":1.915},
{"panel":"7 - Splenium","kind":"fit","age":19,"K":2.28,"lo":2.11,"hi":2.45},{"panel":"7 - Splenium","kind":"fit","age":28,"K":2.2,"lo":2.08,"hi":2.32},{"panel":"7 - Splenium","kind":"fit","age":38,"K":2.112,"lo":2.017,"hi":2.207},{"panel":"7 - Splenium","kind":"fit","age":48,"K":2.023,"lo":1.923,"hi":2.123},{"panel":"7 - Splenium","kind":"fit","age":58,"K":1.935,"lo":1.795,"hi":2.075},{"panel":"7 - Splenium","kind":"fit","age":68,"K":1.846,"lo":1.646,"hi":2.046},{"panel":"7 - Splenium","kind":"fit","age":78,"K":1.758,"lo":1.498,"hi":2.018},
{"panel":"Corpus callosum","kind":"fit","age":19,"K":1.985,"lo":1.86,"hi":2.11},{"panel":"Corpus callosum","kind":"fit","age":28,"K":1.933,"lo":1.843,"hi":2.023},{"panel":"Corpus callosum","kind":"fit","age":38,"K":1.876,"lo":1.806,"hi":1.946},{"panel":"Corpus callosum","kind":"fit","age":48,"K":1.818,"lo":1.743,"hi":1.893},{"panel":"Corpus callosum","kind":"fit","age":58,"K":1.761,"lo":1.661,"hi":1.861},{"panel":"Corpus callosum","kind":"fit","age":68,"K":1.703,"lo":1.558,"hi":1.848},{"panel":"Corpus callosum","kind":"fit","age":78,"K":1.645,"lo":1.45,"hi":1.84},
{"panel":"1 - Rostrum","kind":"stat","label":"s = -2.86\nr = -0.16\np = 0.207"},
{"panel":"2 - Genu","kind":"stat","label":"s = -2.94\nr = -0.21\np = 0.093"},
{"panel":"3 - Rostral body","kind":"stat","label":"s = -4.95\nr = -0.35\np = 0.004"},
{"panel":"4 - Anterior midbody","kind":"stat","label":"s = -5.78\nr = -0.25\np = 0.044"},
{"panel":"5 - Posterior midbody","kind":"stat","label":"s = -7.16\nr = -0.28\np = 0.023"},
{"panel":"6 - Isthmus","kind":"stat","label":"s = -5.60\nr = -0.22\np = 0.079"},
{"panel":"7 - Splenium","kind":"stat","label":"s = -8.85\nr = -0.40\np = 0.001"},
{"panel":"Corpus callosum","kind":"stat","label":"s = -5.76\nr = -0.36\np = 0.003"}
]},
"facet": {"field": "panel", "type": "nominal", "sort": ["1 - Rostrum","2 - Genu","3 - Rostral body","4 - Anterior midbody","5 - Posterior midbody","6 - Isthmus","7 - Splenium","Corpus callosum"], "header": {"title": null, "labelFontSize": 17, "labelFontWeight": "bold", "labelFont": "Liberation Sans", "labelColor": "#000000", "labelPadding": -3}},
"columns": 4,
"bounds": "flush",
"spacing": {"row": 89, "column": 59},
"resolve": {"axis": {"x": "independent", "y": "independent"}},
"spec": {
  "width": 245,
  "height": 219,
  "layer": [
    {"transform": [{"filter": "datum.kind === 'pt'"}],
     "mark": {"type": "circle", "size": 48, "opacity": 1, "color": "#4DBEEE"},
     "encoding": {
       "x": {"field": "age", "type": "quantitative", "scale": {"domain": [15, 80], "nice": false, "zero": false}, "axis": {"values": [20, 40, 60, 80], "format": "d", "title": "Age"}},
       "y": {"field": "K", "type": "quantitative", "scale": {"domain": [0, 3], "nice": false}, "axis": {"values": [0, 1, 2, 3], "format": "d", "title": "K*"}}}},
    {"transform": [{"filter": "datum.kind === 'fit'"}],
     "mark": {"type": "line", "color": "#4DBEEE", "strokeWidth": 1.6},
     "encoding": {"x": {"field": "age", "type": "quantitative"}, "y": {"field": "K", "type": "quantitative"}}},
    {"transform": [{"filter": "datum.kind === 'fit'"}],
     "mark": {"type": "line", "color": "#4DBEEE", "strokeWidth": 1.6, "strokeDash": [1.6, 2.4]},
     "encoding": {"x": {"field": "age", "type": "quantitative"}, "y": {"field": "lo", "type": "quantitative"}}},
    {"transform": [{"filter": "datum.kind === 'fit'"}],
     "mark": {"type": "line", "color": "#4DBEEE", "strokeWidth": 1.6, "strokeDash": [1.6, 2.4]},
     "encoding": {"x": {"field": "age", "type": "quantitative"}, "y": {"field": "hi", "type": "quantitative"}}},
    {"transform": [{"filter": "datum.kind === 'stat'"}],
     "mark": {"type": "text", "align": "left", "baseline": "middle", "fontSize": 15.5, "lineHeight": 19.5, "lineBreak": "\n", "font": "Liberation Sans", "color": "#000000"},
     "encoding": {
       "x": {"datum": 50.6, "type": "quantitative"},
       "y": {"datum": 0.76, "type": "quantitative"},
       "text": {"field": "label", "type": "nominal"}}}
  ]
},
"config": {
  "view": {"stroke": "#262626", "strokeWidth": 1},
  "axis": {"grid": false, "domain": false, "labelFont": "Liberation Sans", "labelFontSize": 15, "labelColor": "#262626", "titleFont": "Liberation Sans", "titleFontSize": 17, "titleFontWeight": "bold", "titleColor": "#262626", "tickColor": "#262626", "tickSize": -4},
  "axisX": {"labelPadding": 13, "titlePadding": 9},
  "axisY": {"labelPadding": 8, "titlePadding": 5}
}
}
